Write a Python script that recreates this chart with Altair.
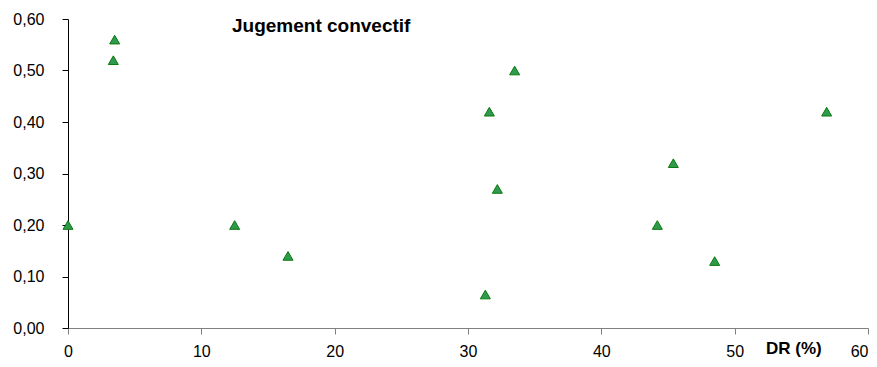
import altair as alt
import pandas as pd

dr = [0.0, 3.5, 3.4, 12.5, 16.5, 31.3, 31.6, 32.2, 33.5, 44.2, 45.4, 48.5, 56.9]
jc = [0.20, 0.56, 0.52, 0.20, 0.14, 0.065, 0.42, 0.27, 0.50, 0.20, 0.32, 0.13, 0.42]
x_ticks = [0, 10, 20, 30, 40, 50, 60]
y_ticks = [0, 0.1, 0.2, 0.3, 0.4, 0.5, 0.6]

df = pd.DataFrame({"DR": dr, "JC": jc})
FONT = "Liberation Sans"

xscale = alt.Scale(domain=[0, 60], nice=False, zero=False)
yscale = alt.Scale(domain=[0, 0.6], nice=False)

points = alt.Chart(df).mark_point(
    shape="triangle-up", filled=True, size=100, fill="#2f9a4f",
    stroke="#0a7a0a", strokeWidth=1, opacity=1
).encode(
    x=alt.X("DR:Q", scale=xscale,
            axis=alt.Axis(values=x_ticks, title=None, grid=False,
                          domainColor="#808080", tickColor="#808080", tickSize=6,
                          labelPadding=9, labelFont=FONT, labelFontSize=16,
                          labelColor="#000000", format="d",
                          labelAlign={"expr": "datum.value >= 60 ? 'right' : 'center'"})),
    y=alt.Y("JC:Q", scale=yscale,
            axis=alt.Axis(values=y_ticks, title=None, grid=False,
                          domainColor="#000000", tickColor="#000000", tickSize=6,
                          labelPadding=18, labelFont=FONT, labelFontSize=16,
                          labelColor="#000000",
                          labelExpr="replace(format(datum.value, '.2f'), '.', ',')")),
)

title_txt = alt.Chart(pd.DataFrame({"t": ["Jugement convectif"]})).mark_text(
    font=FONT, fontSize=19, fontWeight="bold", align="left", baseline="middle",
    color="#000000"
).encode(x=alt.datum(12.3, scale=xscale), y=alt.datum(0.587, scale=yscale), text="t:N")

xlab = alt.Chart(pd.DataFrame({"t": ["DR (%)"]})).mark_text(
    font=FONT, fontSize=17, fontWeight="bold", align="left", baseline="middle",
    color="#000000"
).encode(x=alt.datum(52.35, scale=xscale), y=alt.datum(-0.041, scale=yscale), text="t:N")

chart = alt.layer(points, title_txt, xlab).properties(
    width=800, height=309,
    autosize=alt.AutoSizeParams(type="none"),
    padding={"left": 60, "top": 11, "right": 1, "bottom": 31},
).configure(background="white").configure_view(stroke=None)

chart.save("out.html", embed_options={"renderer": "svg", "actions": False})
